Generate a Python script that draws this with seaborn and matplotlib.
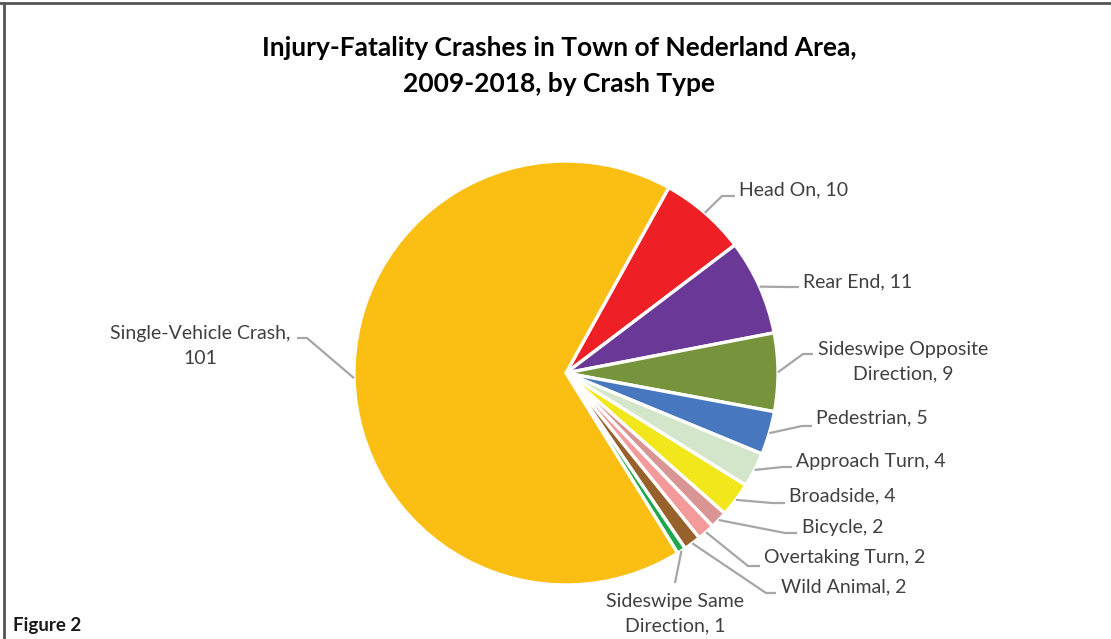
import numpy as np
import matplotlib
matplotlib.use("Agg")
import matplotlib.pyplot as plt
import seaborn as sns

# ---- data (clockwise order from "Head On") ----
categories = ["Head On", "Rear End", "Sideswipe Opposite\nDirection", "Pedestrian",
              "Approach Turn", "Broadside", "Bicycle", "Overtaking Turn",
              "Wild Animal", "Sideswipe Same\nDirection", "Single-Vehicle Crash,\n"]
values = [10, 11, 9, 5, 4, 4, 2, 2, 2, 1, 101]
colors = ["#EE1F25", "#6A3896", "#77933C", "#4677BF", "#D3E6CA", "#F1E71B",
          "#D99594", "#F59A9B", "#97612C", "#1EA84B", "#FBBF13"]

sns.set_theme(style="white")
plt.rcParams['font.family'] = ['Lato', 'DejaVu Sans']

W, H = 1111, 639
fig = plt.figure(figsize=(W / 100, H / 100), dpi=100)
ax = fig.add_axes([0, 0, 1, 1])

def P(x, y):
    return (x, H - y)

cx, cy = P(566, 373)
R = 212
start_cw = 29.0  # first slice begins this many degrees clockwise from 12 o'clock
wedges, _ = ax.pie(values, colors=sns.color_palette(colors), startangle=90 - start_cw,
                   counterclock=False, center=(cx, cy), radius=R,
                   wedgeprops=dict(edgecolor="white", linewidth=2.4))
ax.set_xlim(0, W)
ax.set_ylim(0, H)
ax.set_aspect("equal")
ax.axis("off")

# label layout: (text x, text y, ha, leader elbow, leader end) in pixel coords
layout = [
    ((739, 190), "left", [(722, 196), (735, 196)]),
    ((803, 282), "left", [(786, 287), (799, 287)]),
    ((818, 362), "left", [(803, 354), (813, 354)]),
    ((816, 418), "left", [(802, 426), (812, 426)]),
    ((796, 461), "left", [(783, 467), (792, 467)]),
    ((789, 496), "left", [(772, 503), (785, 503)]),
    ((802, 527), "left", [(785, 533), (797, 533)]),
    ((764, 558), "left", [(748, 566), (760, 566)]),
    ((781, 587), "left", [(766, 593), (776, 593)]),
    ((675, 614), "center", [(675, 583)]),
    ((200, 346), "center", [(307, 338), (297, 338)]),
]

txtcol = "#404040"
linecol = "#A6A6A6"
for w, cat, val, (txy, ha, pts) in zip(wedges, categories, values, layout):
    mid = np.deg2rad((w.theta1 + w.theta2) / 2)
    ax0 = cx + R * np.cos(mid)
    ay0 = cy + R * np.sin(mid)
    xs = [ax0] + [p[0] for p in pts]
    ys = [ay0] + [H - p[1] for p in pts]
    ax.plot(xs, ys, color=linecol, lw=1.6, solid_capstyle="butt", zorder=1)
    if cat.endswith(",\n"):
        label = f"{cat}{val}"
    else:
        label = f"{cat}, {val}"
    tx, ty = P(*txy)
    ax.text(tx, ty, label, ha=ha, va="center", multialignment="center",
            fontsize=14, color=txtcol, linespacing=1.55)

ax.text(*P(559, 66), "Injury-Fatality Crashes in Town of Nederland Area,\n2009-2018, by Crash Type",
        ha="center", va="center", fontsize=19, fontweight="bold", color="black",
        linespacing=1.65)
ax.text(*P(13, 625), "Figure 2", ha="left", va="center", fontsize=13.5,
        fontweight="bold", color="#1a1a1a")

# frame lines (top and left)
ax.plot([0, W], [H - 3, H - 3], color="#555555", lw=2, clip_on=False)
ax.plot([4, 4], [0, H - 3], color="#555555", lw=2, clip_on=False)

fig.savefig("out.png", dpi=100)
